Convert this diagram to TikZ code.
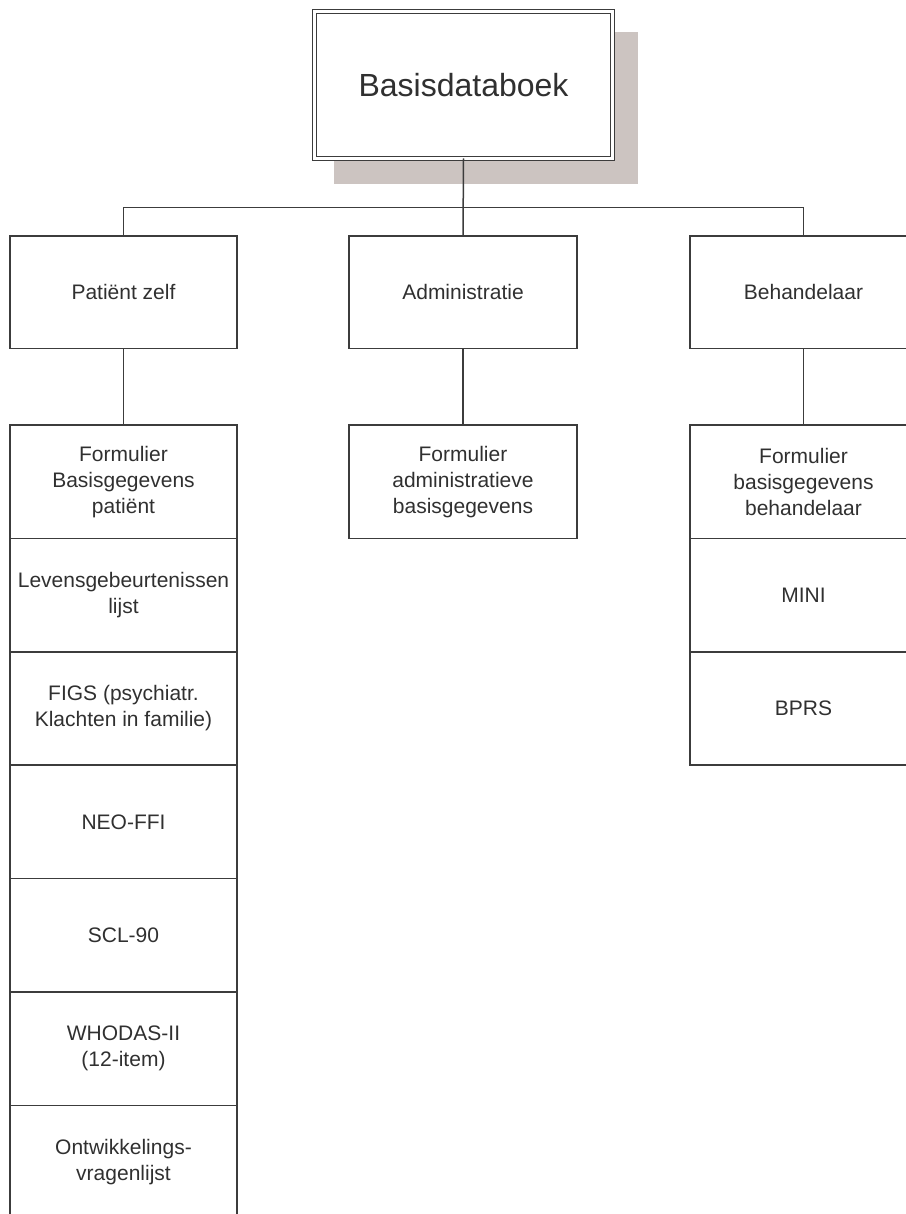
\documentclass[tikz,border=0pt]{standalone}
\usepackage{fontspec}
\setmainfont{Liberation Sans}
\definecolor{lineC}{RGB}{60,60,60}
\definecolor{txtC}{RGB}{48,48,48}
\definecolor{shadowC}{RGB}{204,196,193}
\begin{document}
\begin{tikzpicture}[x=1pt,y=-1pt,
  conn/.style={draw=lineC, line width=1.5pt},
  box/.style={draw=lineC, line width=1.5pt, rectangle, minimum width=227pt, minimum height=113.4pt,
    inner sep=2pt, outer sep=0pt, align=center, text=txtC, font=\fontsize{21}{26}\selectfont},
  lvl/.style={box, minimum height=112.6pt},
  rootbox/.style={draw=lineC, line width=1.3pt, double, double distance=2.7pt, rectangle,
    minimum width=298pt, minimum height=147pt, inner sep=0pt, outer sep=0pt, fill=white,
    text=txtC, font=\fontsize{32}{38}\selectfont}]
\useasboundingbox (0,0) rectangle (905,1214);
% shadow of the root box
\fill[shadowC] (334,32) rectangle (638,184);
\node[rootbox] (root) at (463.5,85) {Basisdataboek};
% level 1
\node[lvl] (p) at (123.5,292.3) {Patiënt zelf};
\node[lvl, minimum width=228pt] (a) at (463,292.3) {Administratie};
\node[lvl] (b) at (803.5,292.3) {Behandelaar};
\coordinate (hub) at (463,207.7);
\draw[conn] (root.south) -- (a.north);
\draw[conn] (p.north) -- (p.north |- hub) -- (b.north |- hub) -- (b.north);
% left column
\node[box] (p1) at (123.5,481.7) {Formulier\\Basisgegevens\\patiënt};
\node[box] (p2) at (123.5,595.1) {Levensgebeurtenissen\\lijst};
\node[box] (p3) at (123.5,708.5) {FIGS (psychiatr.\\Klachten in familie)};
\node[box] (p4) at (123.5,821.9) {NEO-FFI};
\node[box] (p5) at (123.5,935.3) {SCL-90};
\node[box] (p6) at (123.5,1048.7) {WHODAS-II\\(12-item)};
\node[box] (p7) at (123.5,1162.1) {Ontwikkelings-\\vragenlijst};
% middle column
\node[box, minimum width=228pt] (a1) at (463,481.7) {Formulier\\administratieve\\basisgegevens};
% right column
\node[box] (b1) at (803.5,481.7) {Formulier\\basisgegevens\\behandelaar};
\node[box] (b2) at (803.5,595.1) {MINI};
\node[box] (b3) at (803.5,708.5) {BPRS};
% connectors to children
\draw[conn] (p.south) -- (p1.north);
\draw[conn] (a.south) -- (a1.north);
\draw[conn] (b.south) -- (b1.north);
\end{tikzpicture}
\end{document}
